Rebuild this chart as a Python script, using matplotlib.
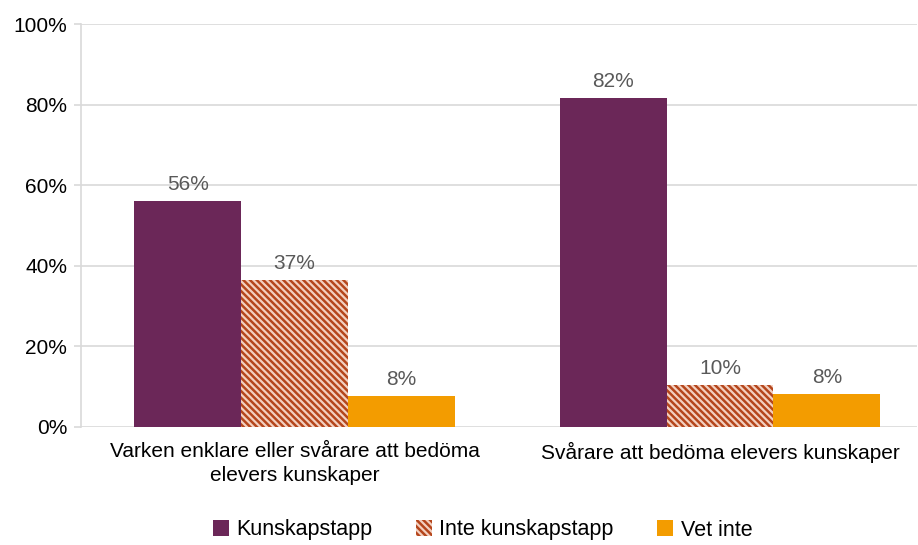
import matplotlib
matplotlib.use("Agg")
import matplotlib.pyplot as plt
from matplotlib.patches import Patch
import numpy as np

plt.rcParams['font.family'] = ['Liberation Sans', 'DejaVu Sans']
plt.rcParams['hatch.linewidth'] = 1.6

categories = ["Varken enklare eller svårare att bedöma\nelevers kunskaper",
              "Svårare att bedöma elevers kunskaper"]
series_names = ["Kunskapstapp", "Inte kunskapstapp", "Vet inte"]
kunskapstapp = [56.0, 81.6]
inte_kunskapstapp = [36.6, 10.4]
vet_inte = [7.6, 8.2]
yticks = [0, 20, 40, 60, 80, 100]

series = [kunskapstapp, inte_kunskapstapp, vet_inte]
colors = ["#6B2758", "#B5461C", "#F39C00"]
hatches = [None, "\\\\\\\\\\", None]
edgecolors = ["#6B2758", "#F3D0C0", "#F39C00"]

fig = plt.figure(figsize=(9.18, 5.45), dpi=100)
ax = fig.add_axes([81/918, 1-427/545, (917-81)/918, (427-24)/545])

x = np.arange(len(categories))
w = 0.251
for i, (vals, c, h, ec) in enumerate(zip(series, colors, hatches, edgecolors)):
    pos = x + (i - 1) * w
    bars = ax.bar(pos, vals, width=w, color=c, hatch=h, edgecolor=ec,
                  linewidth=0, label=series_names[i], zorder=3)
    for b, v in zip(bars, vals):
        ax.annotate(f"{v:.0f}%", (b.get_x() + b.get_width()/2, v),
                    xytext=(0, 5), textcoords="offset points",
                    ha="center", va="bottom", fontsize=15, color="#595959")

ax.set_xlim(-0.502, 1.463)
ax.set_ylim(0, 100)
ax.set_yticks(yticks)
ax.set_yticklabels([f"{t}%" for t in yticks], fontsize=15, color="#000000")
ax.set_xticks(x)
ax.set_xticklabels(categories, fontsize=15, color="#000000", linespacing=1.3)
ax.tick_params(axis='x', length=0, pad=11)
ax.tick_params(axis='y', length=5, color="#D9D9D9", width=1.2, pad=5)
ax.yaxis.grid(True, color="#D9D9D9", linewidth=1.2, zorder=0)
for s in ["top", "right", "bottom"]:
    ax.spines[s].set_visible(False)
ax.spines["left"].set_color("#D9D9D9")
ax.spines["left"].set_linewidth(1.2)

handles = [Patch(facecolor=c, hatch=h, edgecolor=ec, linewidth=0)
           for c, h, ec in zip(colors, hatches, edgecolors)]
fig.legend(handles, series_names, loc="center", bbox_to_anchor=(482.5/918, 1-530/545),
           ncol=3, frameon=False, fontsize=15.5, handlelength=0.75, handleheight=0.75,
           handletextpad=0.35, columnspacing=2.0)

fig.savefig("out.png", dpi=100)
